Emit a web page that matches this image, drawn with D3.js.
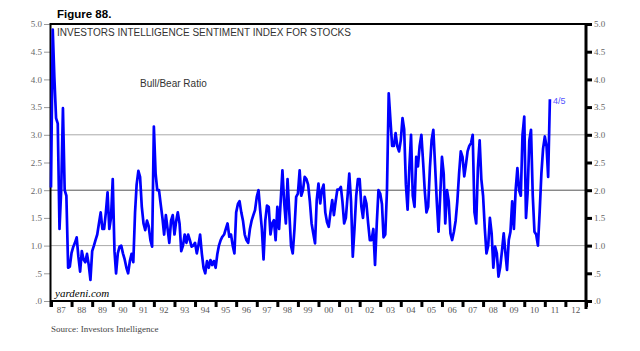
<!DOCTYPE html>
<html>
<head>
<meta charset="utf-8">
<script src="https://cdn.jsdelivr.net/npm/d3@7"></script>
<style>
  body { margin: 0; background: #fff; }
  svg text { font-family: "Liberation Serif", "Times New Roman", serif; }
</style>
</head>
<body>
<div id="chart"></div>
<script>
// Monthly bull/bear ratio, Jan 1987 .. Apr 2011
const startYear = 1987;
const ratio = [
  2.05, 4.9, 4.05, 3.3, 3.2, 1.3, 2.0, 3.48, 2.0, 1.9, 0.6, 0.62,      // 1987
  0.87, 0.98, 1.05, 1.15, 0.8, 0.53, 0.9, 0.75, 0.7, 0.85, 0.65, 0.38, // 1988
  0.9, 1.0, 1.1, 1.2, 1.4, 1.6, 1.3, 1.3, 1.6, 1.96, 1.3, 1.5,         // 1989
  2.2, 0.9, 0.5, 0.86, 0.98, 1.0, 0.86, 0.75, 0.6, 0.5, 0.72, 0.85,    // 1990
  0.7, 1.6, 2.1, 2.35, 2.24, 1.7, 1.4, 1.28, 1.45, 1.35, 1.1, 0.98,    // 1991
  3.15, 2.3, 2.0, 2.0, 1.75, 1.5, 1.2, 1.55, 1.3, 1.05, 1.45, 1.55,    // 1992
  1.2, 1.45, 1.6, 1.4, 0.9, 1.0, 1.2, 1.05, 1.2, 1.1, 0.98, 1.0,       // 1993
  1.05, 0.86, 1.0, 1.2, 0.86, 0.6, 0.5, 0.72, 0.6, 0.74, 0.65, 0.72,   // 1994
  0.6, 0.85, 1.0, 1.1, 1.16, 1.2, 1.3, 1.4, 1.16, 1.2, 1.0, 0.86,      // 1995
  1.6, 1.75, 1.8, 1.6, 1.45, 1.2, 1.1, 1.05, 1.3, 1.45, 1.55, 1.64,    // 1996
  1.88, 2.0, 1.65, 1.3, 0.75, 1.45, 1.72, 1.7, 1.2, 1.4, 1.46, 1.1,    // 1997
  1.7, 1.3, 1.8, 2.36, 1.8, 1.4, 2.2, 1.6, 1.0, 0.86, 1.3, 1.88,       // 1998
  1.94, 2.36, 1.9, 2.0, 2.24, 2.2, 2.1, 1.8, 1.4, 1.22, 1.04, 1.82,    // 1999
  2.12, 1.76, 2.0, 2.1, 1.6, 1.42, 1.34, 1.6, 1.82, 1.55, 1.8, 2.01,   // 2000
  2.01, 2.06, 1.8, 1.4, 1.5, 1.9, 2.3, 1.8, 0.8, 1.3, 1.9, 2.2,        // 2001
  2.2, 1.7, 1.5, 1.88, 1.76, 1.4, 1.1, 1.1, 1.3, 0.65, 1.4, 2.0,       // 2002
  1.94, 1.75, 1.15, 1.2, 2.0, 3.75, 3.27, 2.8, 2.8, 3.03, 2.79, 2.7,   // 2003
  2.9, 3.3, 3.1, 2.1, 1.65, 2.4, 3.0, 1.9, 1.7, 2.6, 2.43, 2.8,        // 2004
  3.0, 2.5, 2.0, 1.6, 1.7, 2.4, 2.9, 3.09, 2.45, 1.8, 1.25, 1.9,       // 2005
  2.6, 2.3, 1.4, 2.0, 1.8, 1.22, 1.1, 1.25, 1.45, 1.8, 2.3, 2.7,       // 2006
  2.6, 2.25, 2.45, 2.7, 2.8, 2.85, 3.0, 1.6, 1.4, 2.4, 2.9, 2.2,       // 2007
  1.9, 1.3, 0.86, 1.0, 1.5, 1.22, 0.6, 0.98, 0.86, 0.44, 0.62, 0.9,    // 2008
  1.22, 0.86, 0.56, 1.1, 1.25, 1.8, 1.3, 2.0, 2.4, 2.0, 1.9, 3.0,      // 2009
  3.33, 1.5, 1.94, 2.9, 3.09, 1.9, 1.25, 1.2, 1.0, 1.6, 2.3, 2.75,     // 2010
  2.97, 2.79, 2.24, 3.64                                               // 2011
];

const yTicks = [0, 0.5, 1, 1.5, 2, 2.5, 3, 3.5, 4, 4.5, 5];
const gridValues = [1, 2, 3];
const yearLabels = ["87", "88", "89", "90", "91", "92", "93", "94", "95", "96", "97", "98", "99",
                    "00", "01", "02", "03", "04", "05", "06", "07", "08", "09", "10", "11", "12"];
const lastLabel = "4/5";

const data = ratio.map((v, i) => ({
  date: new Date(startYear + Math.floor(i / 12), i % 12, 1),
  value: v
}));

const W = 640, H = 351;
const plotLeft = 51, plotRight = 586, plotTop = 24, plotBottom = 301;

const svg = d3.select("#chart").append("svg")
  .attr("width", W)
  .attr("height", H);

const x = d3.scaleTime()
  .domain([new Date(1987, 0, 1), new Date(2013, 0, 1)])
  .range([plotLeft, plotRight]);

const y = d3.scaleLinear()
  .domain([0, 5])
  .range([plotBottom, plotTop]);

const tickFmt = d => d === 0 ? ".0" : d === 0.5 ? ".5" : d.toFixed(1);

// grid lines
svg.selectAll(".grid")
  .data(gridValues)
  .enter()
  .append("line")
  .attr("x1", plotLeft).attr("x2", plotRight)
  .attr("y1", d => y(d)).attr("y2", d => y(d))
  .attr("stroke", d => d === 2 ? "#555" : "#aaa")
  .attr("stroke-width", 1);

// left axis (thin grey ticks)
const gl = svg.append("g")
  .attr("transform", `translate(${plotLeft},0)`)
  .call(d3.axisLeft(y).tickValues(yTicks).tickFormat(tickFmt).tickSize(7).tickPadding(2));
gl.select(".domain").remove();
gl.selectAll(".tick line").attr("stroke", "#999");
gl.selectAll(".tick text").attr("fill", "#666").style("font-size", "9px");

// right axis (thick black ticks)
const gr = svg.append("g")
  .attr("transform", `translate(${plotRight},0)`)
  .call(d3.axisRight(y).tickValues(yTicks).tickFormat(tickFmt).tickSize(6).tickPadding(2));
gr.select(".domain").remove();
gr.selectAll(".tick line").attr("stroke", "#000").attr("stroke-width", 3);
gr.selectAll(".tick text").attr("fill", "#666").style("font-size", "9px");

// bottom axis: thick ticks at year boundaries, labels centred in each year
const gb = svg.append("g")
  .attr("transform", `translate(0,${plotBottom})`)
  .call(d3.axisBottom(x).ticks(d3.timeYear.every(1)).tickFormat("").tickSize(6));
gb.select(".domain").remove();
gb.selectAll(".tick line").attr("stroke", "#000").attr("stroke-width", 3);

svg.selectAll(".yearlabel")
  .data(yearLabels)
  .enter()
  .append("text")
  .attr("x", (d, i) => x(new Date(1987 + i, 6, 1)))
  .attr("y", 313)
  .attr("text-anchor", "middle")
  .attr("fill", "#555")
  .style("font-size", "9px")
  .text(d => d);

// frame
svg.append("line").attr("x1", plotLeft - 1).attr("x2", plotRight).attr("y1", plotTop).attr("y2", plotTop)
  .attr("stroke", "#000").attr("stroke-width", 2);
svg.append("line").attr("x1", plotLeft - 1).attr("x2", plotRight + 1).attr("y1", plotBottom).attr("y2", plotBottom)
  .attr("stroke", "#000").attr("stroke-width", 2);
svg.append("line").attr("x1", plotLeft - 0.5).attr("x2", plotLeft - 0.5).attr("y1", plotTop - 1).attr("y2", plotBottom + 6)
  .attr("stroke", "#000").attr("stroke-width", 2);
svg.append("line").attr("x1", plotRight).attr("x2", plotRight).attr("y1", plotTop - 1).attr("y2", plotBottom + 8)
  .attr("stroke", "#000").attr("stroke-width", 3);

// series
const line = d3.line()
  .x(d => x(d.date))
  .y(d => y(d.value));

svg.append("path")
  .datum(data)
  .attr("fill", "none")
  .attr("stroke", "#0000ff")
  .attr("stroke-width", 2.7)
  .attr("stroke-linejoin", "round")
  .attr("d", line);

const last = data[data.length - 1];
svg.append("text")
  .attr("x", x(last.date) + 3)
  .attr("y", y(last.value) + 5)
  .attr("fill", "#5555ff")
  .style("font-family", "Arial, 'Liberation Sans', sans-serif")
  .style("font-size", "9px")
  .text(lastLabel);

// texts
svg.append("text")
  .attr("x", 57).attr("y", 18)
  .style("font-family", "Arial, 'Liberation Sans', sans-serif")
  .style("font-size", "11.5px")
  .style("font-weight", "bold")
  .text("Figure 88.");

svg.append("text")
  .attr("x", 57).attr("y", 36)
  .attr("fill", "#333")
  .style("font-family", "Arial, 'Liberation Sans', sans-serif")
  .style("font-size", "10px")
  .text("INVESTORS INTELLIGENCE SENTIMENT INDEX FOR STOCKS");

svg.append("text")
  .attr("x", 140).attr("y", 87)
  .attr("fill", "#333")
  .style("font-family", "Arial, 'Liberation Sans', sans-serif")
  .style("font-size", "10px")
  .text("Bull/Bear Ratio");

svg.append("text")
  .attr("x", 55).attr("y", 297)
  .style("font-style", "italic")
  .style("font-size", "11px")
  .text("yardeni.com");

svg.append("text")
  .attr("x", 51).attr("y", 332)
  .attr("fill", "#444")
  .style("font-size", "9px")
  .text("Source: Investors Intelligence");
</script>
</body>
</html>
